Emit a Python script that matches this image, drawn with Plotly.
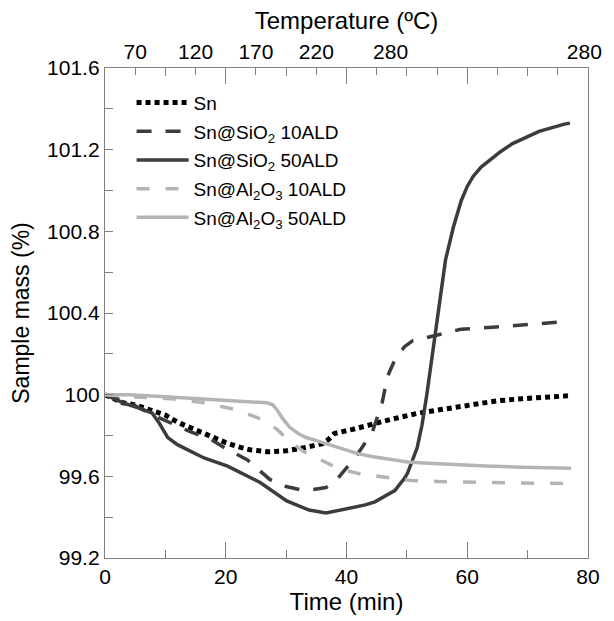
import plotly.graph_objects as go

# ---- data ----
t_sn = [0, 3, 5, 7, 10, 12, 14, 16, 18, 20, 22, 24, 27, 30, 33, 36, 37, 38, 41, 44, 47.5, 52, 56, 61, 65, 69, 73, 77]
m_sn = [100, 99.96, 99.95, 99.93, 99.90, 99.865, 99.84, 99.81, 99.785, 99.765, 99.745, 99.73, 99.72, 99.725,
        99.74, 99.76, 99.78, 99.81, 99.83, 99.855, 99.88, 99.91, 99.93, 99.955, 99.97, 99.98, 99.985, 99.995]

t_si10 = [0, 4, 8, 11, 14, 17.6, 19.8, 23.6, 27.3, 30, 32.2, 34.5, 36.6, 38, 39.3, 41.5, 43, 44.2, 45, 45.9,
          46.8, 48, 49.6, 51, 53.3, 56, 58.9, 64.2, 69.1, 75.1, 77]
m_si10 = [100, 99.96, 99.90, 99.86, 99.82, 99.78, 99.74, 99.68, 99.585, 99.55, 99.535, 99.535, 99.545, 99.57,
          99.615, 99.695, 99.76, 99.81, 99.88, 99.96, 100.09, 100.17, 100.235, 100.265, 100.28, 100.30, 100.32,
          100.33, 100.34, 100.355, 100.36]

t_si50 = [0, 3, 6, 7.8, 9, 10.4, 12, 13.7, 16.4, 20.3, 25.7, 30.1, 33.8, 36.6, 39.3, 43.1, 44.7, 46.8, 48, 49.6,
          50.1, 51.7, 52.5, 53.3, 54.5, 55.6, 56.4, 57.7, 59, 60, 61, 62.3, 63.7, 65.5, 67.5, 71.9, 76.1, 77]
m_si50 = [100, 99.96, 99.93, 99.91, 99.86, 99.79, 99.755, 99.73, 99.69, 99.65, 99.57, 99.48, 99.435, 99.42,
          99.435, 99.46, 99.475, 99.51, 99.53, 99.59, 99.615, 99.74, 99.85, 100.0, 100.25, 100.50, 100.66,
          100.82, 100.95, 101.02, 101.07, 101.115, 101.15, 101.19, 101.23, 101.29, 101.325, 101.33]

t_al10 = [0, 4, 11, 16.5, 22, 26.3, 28.5, 30.6, 33, 35, 37.5, 39.8, 42.5, 45.2, 50.7, 55, 61, 68, 76.1, 77]
m_al10 = [100, 99.99, 99.98, 99.96, 99.925, 99.875, 99.83, 99.77, 99.72, 99.69, 99.655, 99.63, 99.61, 99.60,
          99.58, 99.575, 99.57, 99.567, 99.565, 99.565]

t_al50 = [0, 4, 10, 15, 20, 24, 26.8, 27.8, 28.5, 29.5, 30.6, 32, 33.3, 35, 36.6, 39, 42, 44.7, 47.5, 50.1,
          52.8, 58.2, 63, 69.1, 77.2]
m_al50 = [100, 100.0, 99.99, 99.98, 99.97, 99.965, 99.96, 99.95, 99.925, 99.88, 99.84, 99.81, 99.79, 99.775,
          99.76, 99.74, 99.71, 99.695, 99.68, 99.67, 99.665, 99.655, 99.65, 99.645, 99.64]

names = ["Sn", "Sn@SiO<sub>2</sub> 10ALD", "Sn@SiO<sub>2</sub> 50ALD",
         "Sn@Al<sub>2</sub>O<sub>3</sub> 10ALD", "Sn@Al<sub>2</sub>O<sub>3</sub> 50ALD"]

y_tickvals = [99.2, 99.6, 100, 100.4, 100.8, 101.2, 101.6]
y_ticktext = ["99.2", "99.6", "100", "100.4", "100.8", "101.2", "101.6"]
x_tickvals = [0, 20, 40, 60, 80]
x_range = [0, 80]
top_tickpos = [5, 15, 25, 35, 47.3, 79.4]
top_ticktext = ["70", "120", "170", "220", "280", "280"]

# ---- styles ----
DARK = "#3c3c3c"
LIGHT = "#b4b4b4"
AX = "#808080"
FONT = "Liberation Sans, Arial, sans-serif"

series = [
    (t_sn, m_sn, dict(color="black", width=5, dash="5px,4px")),
    (t_si10, m_si10, dict(color=DARK, width=3.5, dash="15px,14px")),
    (t_si50, m_si50, dict(color=DARK, width=3.5)),
    (t_al10, m_al10, dict(color=LIGHT, width=3.5, dash="13px,16px")),
    (t_al50, m_al50, dict(color=LIGHT, width=3.5)),
]

fig = go.Figure()
for i, (tx, my, ln) in enumerate(series):
    fig.add_trace(go.Scatter(x=tx, y=my, mode="lines", name=names[i], line=ln,
                             legendgroup=f"g{i}", showlegend=True))

# invisible carriers so the top axes are drawn
for ax in ["x2", "x3"]:
    fig.add_trace(go.Scatter(x=x_range, y=[None, None], xaxis=ax, yaxis="y", mode="lines",
                             showlegend=False, hoverinfo="skip"))

fig.update_layout(
    width=614, height=621,
    margin=dict(l=105, r=17, t=68, b=63),
    paper_bgcolor="white", plot_bgcolor="white",
    font=dict(family=FONT, color="black", size=21),
    showlegend=True,
    legend=dict(x=0.055, y=0.968, xanchor="left", yanchor="top",
                font=dict(size=19, family=FONT), bgcolor="rgba(0,0,0,0)",
                tracegroupgap=1, itemwidth=52),
    xaxis=dict(range=x_range, tickvals=x_tickvals, ticks="inside", ticklen=16, tickwidth=1,
               tickcolor=AX, showline=True, linecolor=AX, linewidth=1.3, mirror="ticks",
               showgrid=False, zeroline=False,
               minor=dict(dtick=10, tick0=0, ticks="inside", ticklen=8, tickcolor=AX, showgrid=False),
               tickfont=dict(size=21), title=dict(text="Time (min)", font=dict(size=24), standoff=4)),
    yaxis=dict(range=[99.2, 101.6], tickvals=y_tickvals, ticktext=y_ticktext, ticks="inside", ticklen=8,
               tickwidth=1, tickcolor=AX, showline=True, linecolor=AX, linewidth=1.3, mirror=True,
               showgrid=False, zeroline=False,
               minor=dict(dtick=0.2, tick0=99.2, ticks="inside", ticklen=8, tickcolor=AX, showgrid=False),
               tickfont=dict(size=21), title=dict(text="Sample mass (%)", font=dict(size=23), standoff=11)),
    xaxis2=dict(overlaying="x", side="top", anchor="y", range=x_range, tickvals=top_tickpos,
                ticktext=top_ticktext, ticks="", showline=False, showgrid=False, zeroline=False,
                ticklabelstandoff=4,
                tickfont=dict(size=21), title=dict(text="Temperature (ºC)", font=dict(size=24), standoff=3)),
    xaxis3=dict(overlaying="x", side="top", anchor="y", range=x_range, dtick=5, tick0=0, ticks="inside",
                ticklen=7, tickcolor=AX, showticklabels=False, showline=False, showgrid=False, zeroline=False),
)

fig.write_html("out.html")
